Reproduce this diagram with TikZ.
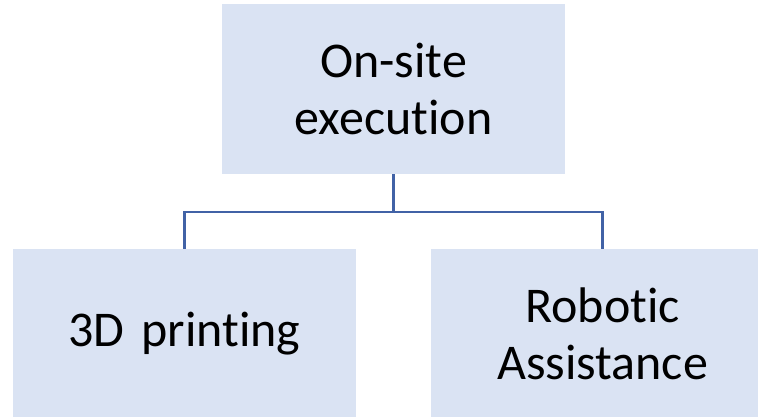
\documentclass[tikz,border=0pt]{standalone}
\usepackage{fontspec}
\setmainfont[Ligatures=NoCommon]{Carlito}
\usetikzlibrary{positioning}
\definecolor{boxFill}{RGB}{218,227,243}
\definecolor{lineBlue}{RGB}{65,98,166}

\begin{document}
\begin{tikzpicture}[x=1pt,y=-1pt,
	Edge/.style={-,lineBlue,line width=2.4pt},
	TaskBox/.style={rectangle,fill=boxFill,draw=none,minimum width=343pt,minimum height=170pt,
		text width=330pt,align=center,font=\fontsize{50}{57}\selectfont},
]
	\useasboundingbox (0,0) rectangle (758,417);
	\node[TaskBox] (top) at (393.5,89) {On-site\\execution};
	\node[TaskBox] (print) at (184.5,334) {3D printing};
	\node[TaskBox] (robot) at (602.5,334) {Robotic\\Assistance};

	\draw[Edge] (top.south) -- ++(0,38) coordinate (split);
	\draw[Edge] (split) -| (print.north);
	\draw[Edge] (split) -| (robot.north);
\end{tikzpicture}
\end{document}
